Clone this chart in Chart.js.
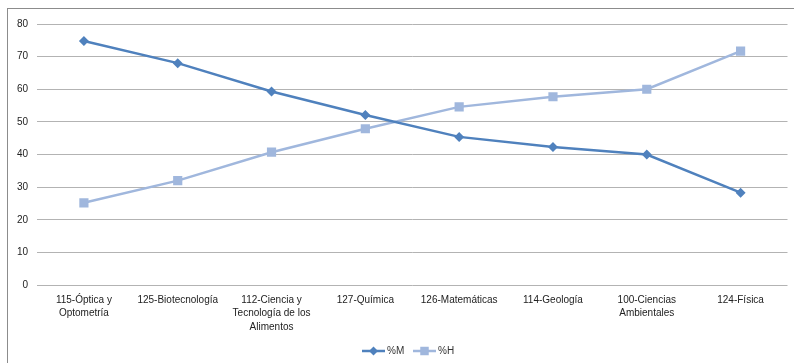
<!DOCTYPE html>
<html>
<head>
<meta charset="utf-8">
<script src="https://cdn.jsdelivr.net/npm/chart.js@4"></script>
<style>
  html, body { margin: 0; padding: 0; background: #fff; }
  #wrap { position: relative; width: 794px; height: 363px; overflow: hidden; }
  #frame { position: absolute; left: 7px; top: 8px; width: 820px; height: 400px;
           border-left: 1px solid #8c8c8c; border-top: 1px solid #8c8c8c; pointer-events: none; }
  canvas { position: absolute; left: 0; top: 0; }
</style>
</head>
<body>
<div id="wrap">
  <canvas id="grafico" width="794" height="363"></canvas>
  <div id="frame"></div>
</div>
<script>
// -------------------- Dados --------------------
const carreras = [
  ["115-Óptica y", "Optometría"],
  "125-Biotecnología",
  ["112-Ciencia y", "Tecnología de los", "Alimentos"],
  "127-Química",
  "126-Matemáticas",
  "114-Geología",
  ["100-Ciencias", "Ambientales"],
  "124-Física"
];
const pctM = [74.8, 68.0, 59.3, 52.1, 45.4, 42.3, 40.0, 28.3];
const pctH = [25.2, 32.0, 40.7, 47.9, 54.6, 57.7, 60.0, 71.7];
const yTicks = [0, 10, 20, 30, 40, 50, 60, 70, 80];

const corM = '#4F81BD';
const corH = '#A0B7DD';
const fonte = '"Liberation Sans", Arial, sans-serif';

// -------------------- Legenda estilo Excel --------------------
const legendaExcel = {
  id: 'legendaExcel',
  afterDraw(chart) {
    const ctx = chart.ctx;
    const y = 351;
    const itens = [
      { label: '%M', cor: corM, estilo: 'rectRot', r: 4.5, x: 362 },
      { label: '%H', cor: corH, estilo: 'rect', r: 6, x: 413 }
    ];
    ctx.save();
    ctx.font = '10px ' + fonte;
    ctx.textBaseline = 'middle';
    itens.forEach(it => {
      ctx.strokeStyle = it.cor;
      ctx.lineWidth = 2.5;
      ctx.beginPath();
      ctx.moveTo(it.x, y);
      ctx.lineTo(it.x + 23, y);
      ctx.stroke();
      ctx.fillStyle = it.cor;
      Chart.helpers.drawPoint(ctx, { pointStyle: it.estilo, radius: it.r, borderWidth: 0 }, it.x + 11.5, y);
      ctx.fillStyle = '#333';
      ctx.fillText(it.label, it.x + 25, y + 0.5);
    });
    ctx.restore();
  }
};

// -------------------- Gráfico --------------------
new Chart(document.getElementById('grafico').getContext('2d'), {
  type: 'line',
  data: {
    labels: carreras,
    datasets: [
      {
        label: '%M', data: pctM,
        borderColor: corM, backgroundColor: corM, borderWidth: 2.5,
        pointStyle: 'rectRot', pointRadius: 5, pointBorderWidth: 0,
        tension: 0
      },
      {
        label: '%H', data: pctH,
        borderColor: corH, backgroundColor: corH, borderWidth: 2.5,
        pointStyle: 'rect', pointRadius: 6.5, pointBorderWidth: 0,
        tension: 0
      }
    ]
  },
  options: {
    responsive: false,
    animation: false,
    layout: { padding: { top: 24, right: 5, bottom: 28, left: 0 } },
    plugins: {
      legend: { display: false },
      tooltip: { enabled: false }
    },
    scales: {
      x: {
        offset: true,
        grid: { display: false, drawTicks: false },
        border: { display: false },
        ticks: {
          autoSkip: false, maxRotation: 0, padding: 8,
          color: '#222', font: { family: fonte, size: 10, lineHeight: 1.35 }
        },
        afterFit(scale) { scale.height = 50; }
      },
      y: {
        min: 0, max: 80,
        afterBuildTicks(scale) { scale.ticks = yTicks.map(v => ({ value: v })); },
        grid: { color: '#b3b3b3', lineWidth: 1, drawTicks: false },
        border: { display: false },
        ticks: {
          padding: 9, color: '#222',
          font: { family: fonte, size: 10 }
        },
        afterFit(scale) { scale.width = 37; }
      }
    }
  },
  plugins: [legendaExcel]
});
</script>
</body>
</html>
